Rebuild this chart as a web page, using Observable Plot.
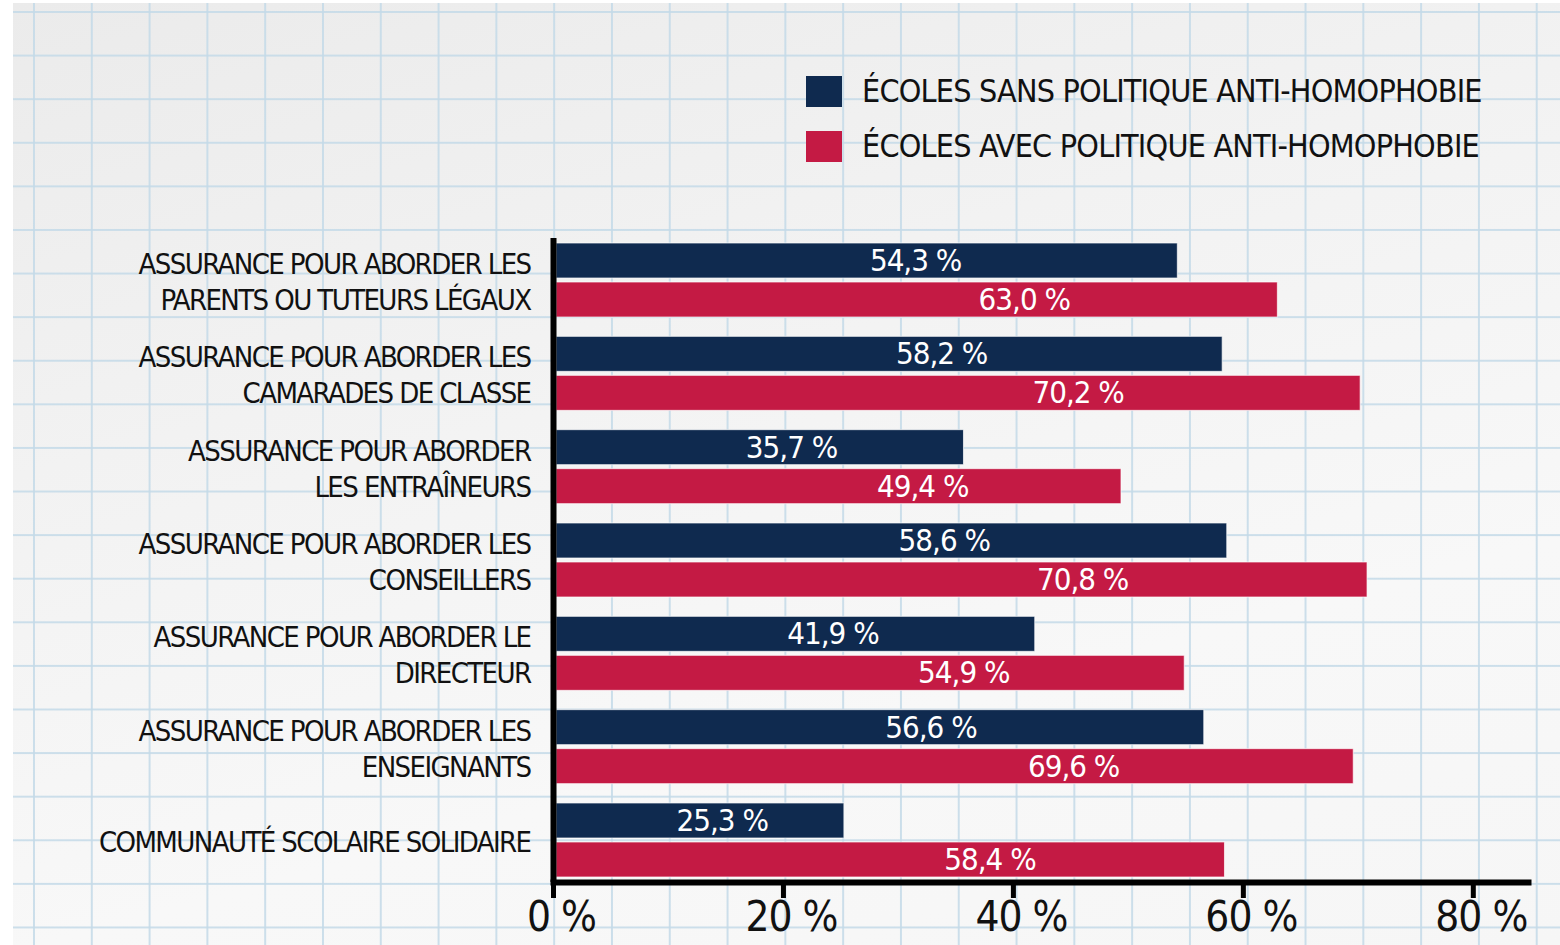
<!DOCTYPE html>
<html>
<head>
<meta charset="utf-8">
<script src="https://cdn.jsdelivr.net/npm/d3@7"></script>
<script src="https://cdn.jsdelivr.net/npm/@observablehq/plot@0.6"></script>
<style>
  html, body { margin: 0; padding: 0; background: #ffffff; }
  #page { position: relative; width: 1560px; height: 945px; overflow: hidden; background: #ffffff; }
  #paper {
    position: absolute; left: 13px; top: 3px; width: 1547px; height: 942px;
    background-color: #f3f3f3;
    background-image:
      linear-gradient(to right, rgba(196, 218, 232, 0.85) 2px, transparent 2px),
      linear-gradient(to bottom, rgba(196, 218, 232, 0.85) 2px, transparent 2px),
      linear-gradient(165deg, #ebebeb 0%, #f2f2f2 35%, #f8f8f8 70%, #f6f6f6 100%);
    background-size: 57.8px 43.6px, 57.8px 43.6px, 100% 100%;
    background-position: 20px 8px, 20px 8px, 0 0;
  }
  #content { position: absolute; left: 0; top: 0; width: 1560px; height: 945px; }
  #legend { position: relative; width: 1560px; height: 225px; }
  .item { position: absolute; left: 806px; display: flex; align-items: center; }
  .swatch { width: 36px; height: 31px; margin-right: 20px; }
  .label { font-family: "Liberation Sans Narrow", "DejaVu Sans Condensed", sans-serif; font-size: 32px; color: #111; white-space: nowrap; letter-spacing: -0.8px; }
  svg g[aria-label="y-axis tick label"] text { letter-spacing: -1.6px; }
  svg g[aria-label="x-axis tick label"] text { letter-spacing: -1px; }
  svg g.values text { letter-spacing: -1px; }
</style>
</head>
<body>
<div id="page">
  <div id="paper"></div>
  <div id="content">
    <div id="legend"></div>
    <div id="chart"></div>
  </div>
</div>
<script>
const categories = [
  "ASSURANCE POUR ABORDER LES\nPARENTS OU TUTEURS LÉGAUX",
  "ASSURANCE POUR ABORDER LES\nCAMARADES DE CLASSE",
  "ASSURANCE POUR ABORDER\nLES ENTRAÎNEURS",
  "ASSURANCE POUR ABORDER LES\nCONSEILLERS",
  "ASSURANCE POUR ABORDER LE\nDIRECTEUR",
  "ASSURANCE POUR ABORDER LES\nENSEIGNANTS",
  "COMMUNAUTÉ SCOLAIRE SOLIDAIRE"
];
const series = ["ÉCOLES SANS POLITIQUE ANTI-HOMOPHOBIE", "ÉCOLES AVEC POLITIQUE ANTI-HOMOPHOBIE"];
const sansValues = [54.3, 58.2, 35.7, 58.6, 41.9, 56.6, 25.3];
const avecValues = [63.0, 70.2, 49.4, 70.8, 54.9, 69.6, 58.4];
const colors = ["#0f2a4f", "#c41a44"];
const xTicks = [0, 20, 40, 60, 80];

const FONT = '"Liberation Sans Narrow", "DejaVu Sans Condensed", sans-serif';

const data = categories.flatMap((c, i) => [
  {category: c, series: series[0], value: sansValues[i]},
  {category: c, series: series[1], value: avecValues[i]}
]);
const sans = data.filter(d => d.series === series[0]);
const avec = data.filter(d => d.series === series[1]);
const fmt = v => v.toFixed(1).replace(".", ",") + " %";

// legend
const legend = document.getElementById("legend");
series.forEach((s, i) => {
  const item = document.createElement("div");
  item.className = "item";
  item.style.top = (i === 0 ? 72 : 127) + "px";
  const sw = document.createElement("div");
  sw.className = "swatch";
  sw.style.background = colors[i];
  const lb = document.createElement("div");
  lb.className = "label";
  lb.textContent = s;
  item.appendChild(sw); item.appendChild(lb);
  legend.appendChild(item);
});

const chart = Plot.plot({
  width: 1560,
  height: 720,
  marginLeft: 553,
  marginRight: 32,
  marginTop: 13,
  marginBottom: 63,
  style: {background: "transparent", fontFamily: FONT, color: "#111", overflow: "visible"},
  x: {domain: [0, 84.8], label: null},
  y: {domain: categories, paddingInner: 0.207, paddingOuter: 0.0536, round: false, label: null},
  color: {domain: series, range: colors},
  marks: [
    Plot.barX(sans, {x: "value", y: "category", fill: "series", insetBottom: 39, insetLeft: 3, stroke: "#ffffff", strokeOpacity: 0.7, strokeWidth: 1}),
    Plot.barX(avec, {x: "value", y: "category", fill: "series", insetTop: 39, insetLeft: 3, stroke: "#ffffff", strokeOpacity: 0.7, strokeWidth: 1}),
    Plot.text(sans, {x: d => d.value * 0.58, y: "category", dy: -19.5, text: d => fmt(d.value), fill: "#ffffff", fontSize: 31, textAnchor: "middle", className: "values"}),
    Plot.text(avec, {x: d => d.value * 0.65, y: "category", dy: 19.5, text: d => fmt(d.value), fill: "#ffffff", fontSize: 31, textAnchor: "middle", className: "values"}),
    Plot.ruleX([0], {stroke: "#000", strokeWidth: 6}),
    Plot.frame({anchor: "bottom", stroke: "#000", strokeWidth: 6}),
    Plot.axisX({ticks: xTicks, tickSize: 16, stroke: "#000", strokeWidth: 5, fill: "none", label: null}),
    Plot.axisX({ticks: xTicks, tickSize: 0, tickPadding: 19, tickFormat: d => d + " %", fontSize: 42, fill: "#111", dx: 8, label: null}),
    Plot.axisY({tickSize: 0, tickPadding: 23, fontSize: 29, lineHeight: 1.24, fill: "#111", label: null})
  ]
});
document.getElementById("chart").appendChild(chart);
</script>
</body>
</html>
